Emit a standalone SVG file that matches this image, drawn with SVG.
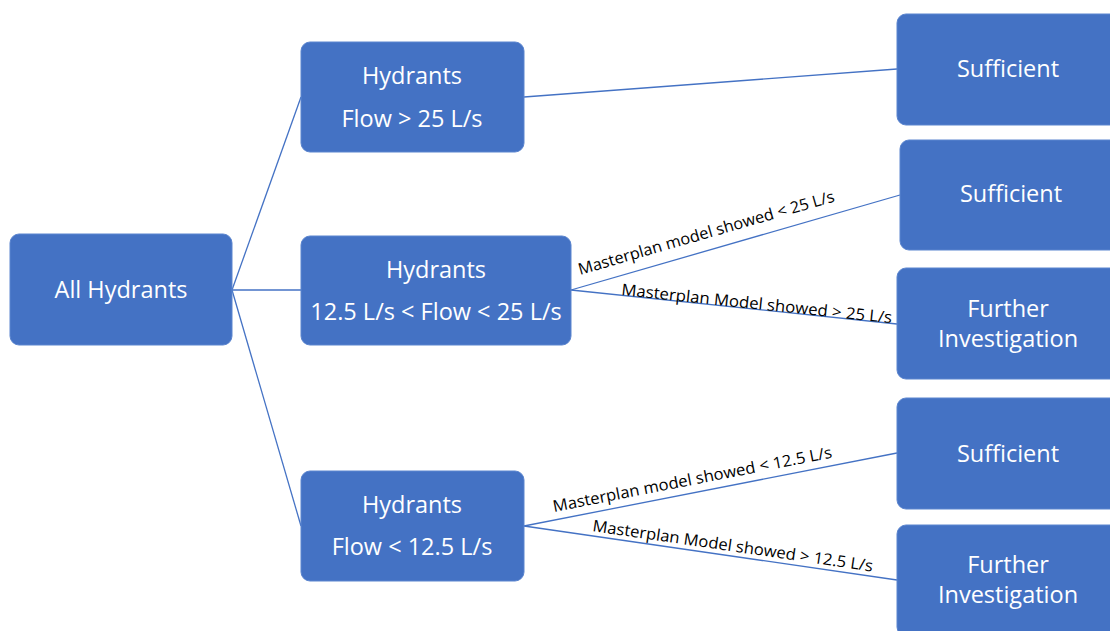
<svg xmlns="http://www.w3.org/2000/svg" width="1110" height="631" viewBox="0 0 1110 631">
<style>
.box{fill:#4472C4;stroke:#5B85CF;stroke-width:1}
.t{font-family:"Open Sans","Liberation Sans",sans-serif;font-size:23.5px;fill:#FFFFFF;text-anchor:middle}
.c{stroke:#4472C4;stroke-width:1.3;fill:none}
.l{font-family:"Open Sans","Liberation Sans",sans-serif;font-size:16px;fill:#000000}
</style>
<rect width="1110" height="631" fill="#FFFFFF"/>
<g id="connectors">
<line class="c" x1="232" y1="290" x2="301" y2="97"/>
<line class="c" x1="232" y1="290" x2="301" y2="290"/>
<line class="c" x1="232" y1="290" x2="301" y2="526"/>
<line class="c" x1="524" y1="97" x2="897" y2="69"/>
<line class="c" x1="571" y1="290" x2="900" y2="195"/>
<line class="c" x1="571" y1="290" x2="897" y2="324"/>
<line class="c" x1="524" y1="526" x2="897" y2="453"/>
<line class="c" x1="524" y1="526" x2="897" y2="580"/>
<text class="l" transform="translate(580,275) rotate(-16.1)" textLength="266" lengthAdjust="spacingAndGlyphs">Masterplan model showed &lt; 25 L/s</text>
<text class="l" transform="translate(621,295) rotate(5.95)" textLength="272" lengthAdjust="spacingAndGlyphs">Masterplan Model showed &gt; 25 L/s</text>
<text class="l" transform="translate(554,512) rotate(-11.07)" textLength="284" lengthAdjust="spacingAndGlyphs">Masterplan model showed &lt; 12.5 L/s</text>
<text class="l" transform="translate(592,531) rotate(8.24)" textLength="283" lengthAdjust="spacingAndGlyphs">Masterplan Model showed &gt; 12.5 L/s</text>
</g>
<g id="all">
<rect class="box" x="10" y="234" width="222" height="111" rx="9"/>
<text class="t" x="121" y="298">All Hydrants</text>
</g>
<g id="h25">
<rect class="box" x="301" y="42" width="223" height="110" rx="9"/>
<text class="t" x="412" y="84">Hydrants</text>
<text class="t" x="412" y="127">Flow &gt; 25 L/s</text>
</g>
<g id="hmid">
<rect class="box" x="301" y="236" width="270" height="109" rx="9"/>
<text class="t" x="436" y="278">Hydrants</text>
<text class="t" x="436" y="320">12.5 L/s &lt; Flow &lt; 25 L/s</text>
</g>
<g id="hlow">
<rect class="box" x="301" y="471" width="223" height="110" rx="9"/>
<text class="t" x="412" y="513">Hydrants</text>
<text class="t" x="412" y="555">Flow &lt; 12.5 L/s</text>
</g>
<g id="s1">
<rect class="box" x="897" y="14" width="222" height="111" rx="9"/>
<text class="t" x="1008" y="77">Sufficient</text>
</g>
<g id="s2">
<rect class="box" x="900" y="140" width="222" height="110" rx="9"/>
<text class="t" x="1011" y="202">Sufficient</text>
</g>
<g id="f1">
<rect class="box" x="897" y="268" width="222" height="111" rx="9"/>
<text class="t" x="1008" y="317">Further</text>
<text class="t" x="1008" y="347">Investigation</text>
</g>
<g id="s3">
<rect class="box" x="897" y="398" width="222" height="111" rx="9"/>
<text class="t" x="1008" y="462">Sufficient</text>
</g>
<g id="f2">
<rect class="box" x="897" y="525" width="222" height="111" rx="9"/>
<text class="t" x="1008" y="573">Further</text>
<text class="t" x="1008" y="603">Investigation</text>
</g>
</svg>
